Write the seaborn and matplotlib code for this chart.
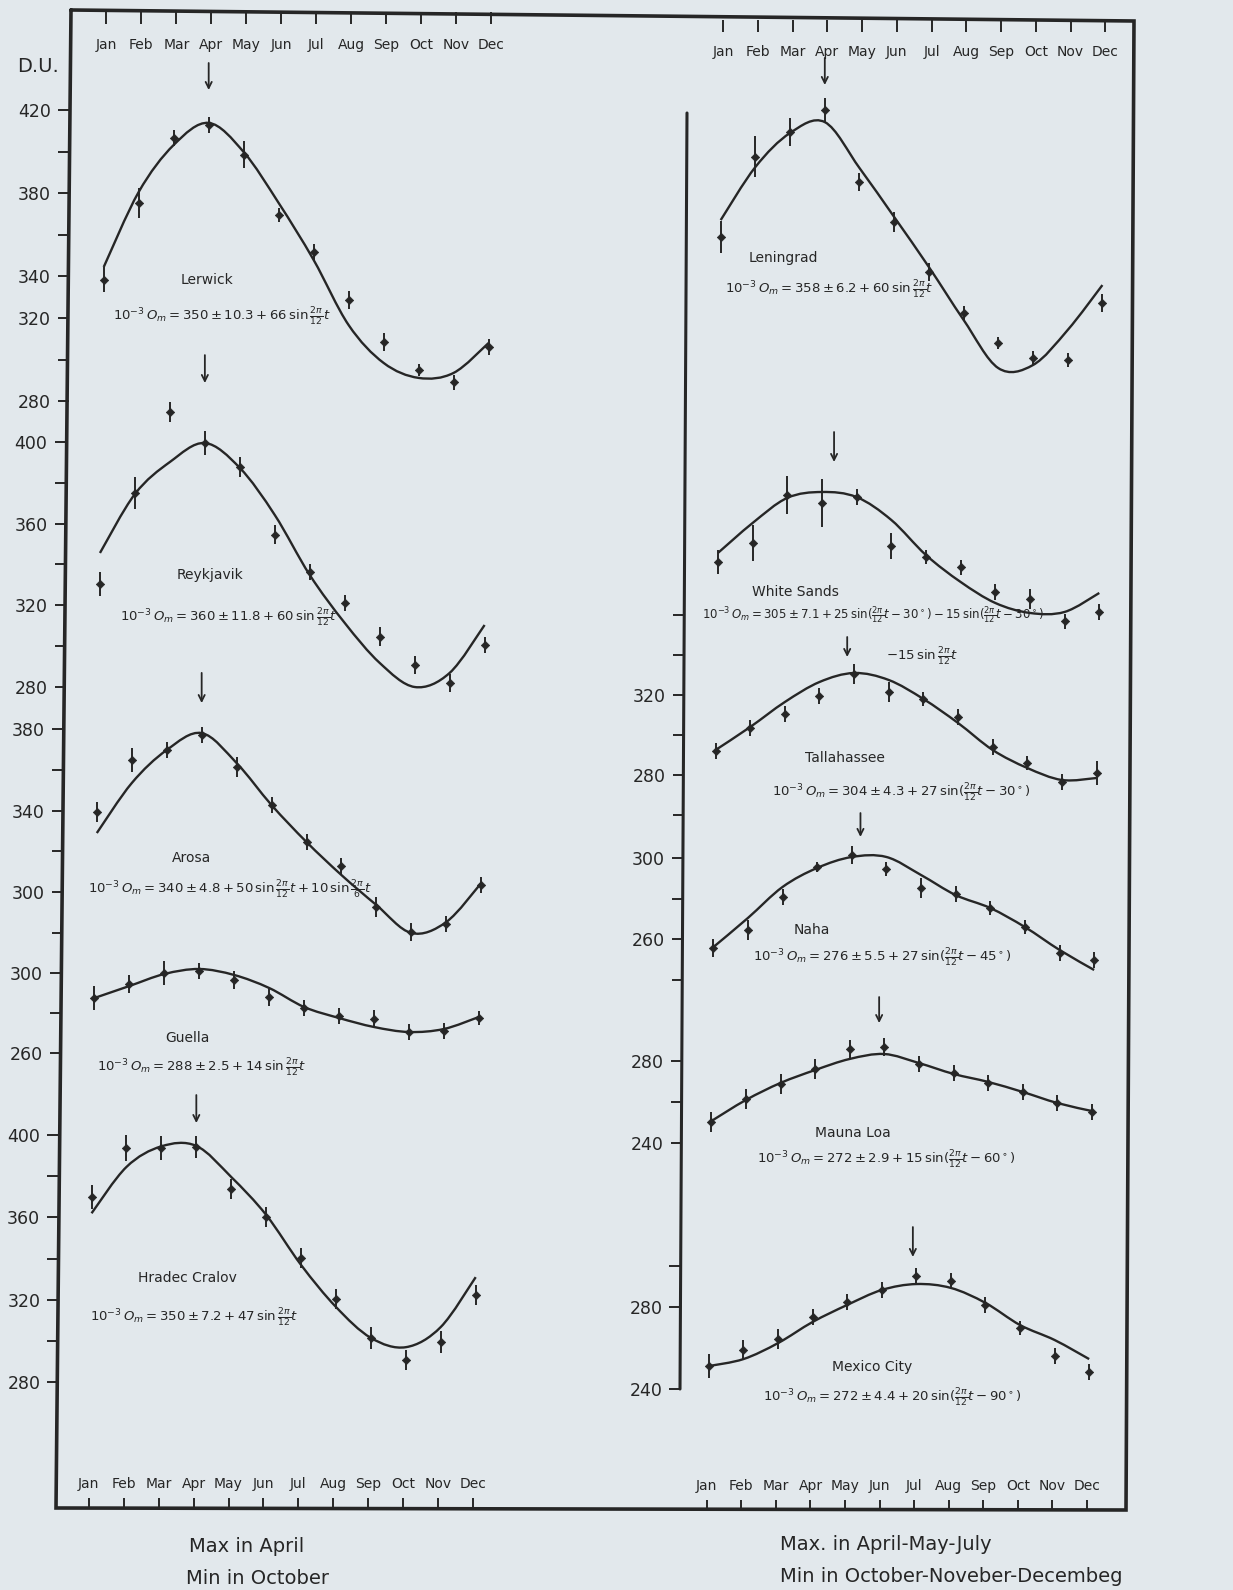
import numpy as np
import matplotlib
matplotlib.use('Agg')
import matplotlib.pyplot as plt
from matplotlib.path import Path
from matplotlib.patches import PathPatch
import seaborn as sns

months = ['Jan', 'Feb', 'Mar', 'Apr', 'May', 'Jun', 'Jul', 'Aug', 'Sep', 'Oct', 'Nov', 'Dec']

######## left column (D.U.) #########
lerwick_obs = [338.3, 375.3, 406.5, 412.8, 398.4, 369.5, 351.7, 328.7, 308.5, 295.0, 289.0, 306.0]
lerwick_err = [6, 7, 4, 4, 6.5, 3.5, 4, 4.5, 4.5, 3, 3.5, 4]
lerwick_fit = [344.5, 380.6, 403.2, 413.8, 399.8, 375.3, 347.9, 316.6, 298.4, 291.2, 293.6, 308.0]
lerwick_ticks = [420, 400, 380, 360, 340, 320, 300, 280]
lerwick_labels = [420, 380, 340, 320, 280]

reykjavik_obs = [330.4, 375.0, 414.7, 399.5, 387.7, 354.6, 336.4, 321.2, 304.6, 290.7, 281.9, 300.5]
reykjavik_err = [6, 8, 5, 6, 5, 4.5, 4, 4, 4.5, 4.5, 4.5, 4]
reykjavik_fit = [345.6, 374.5, 390.2, 399.5, 387.3, 364.2, 334.8, 311.3, 291.7, 279.9, 286.8, 310.3]
reykjavik_ticks = [400, 380, 360, 340, 320, 300, 280]
reykjavik_labels = [400, 360, 320, 280]

arosa_obs = [339.3, 364.8, 369.7, 377.1, 361.4, 342.7, 324.6, 312.8, 292.7, 280.5, 284.4, 303.5]
arosa_err = [5, 6, 4, 4, 5, 4, 4, 4, 5, 4.5, 4, 4]
arosa_fit = [329.0, 353.5, 369.7, 378.0, 363.3, 342.7, 324.6, 308.4, 293.7, 280.0, 285.4, 304.5]
arosa_ticks = [380, 360, 340, 320, 300, 280]
arosa_labels = [380, 340, 300]

guella_obs = [287.5, 294.5, 300.0, 301.0, 296.5, 288.0, 282.5, 278.5, 277.0, 270.5, 271.0, 277.5]
guella_err = [6, 4.5, 6, 4, 4.5, 4.5, 4, 4, 4.5, 4, 4, 3.5]
guella_fit = [287.5, 293.5, 299.5, 302.0, 299.0, 292.5, 283.0, 277.5, 273.0, 270.5, 272.0, 278.0]
guella_ticks = [300, 280, 260]
guella_labels = [300, 260]

hradec_obs = [369.9, 393.7, 393.7, 394.2, 373.8, 360.2, 340.3, 320.4, 301.5, 290.8, 299.5, 322.3]
hradec_err = [6, 6.5, 6, 5.5, 5, 5, 5, 5, 5.5, 5, 5.5, 5]
hradec_fit = [362.0, 384.5, 394.5, 394.7, 379.6, 361.2, 336.9, 316.5, 301.5, 297.0, 306.8, 331.0]
hradec_ticks = [400, 380, 360, 340, 320, 300, 280]
hradec_labels = [400, 360, 320, 280]

######## right column (D.U.) #########
leningrad_obs = [360.0, 399.0, 411.2, 421.9, 386.8, 367.3, 342.9, 322.9, 308.3, 301.0, 300.0, 327.8]
leningrad_err = [8, 10, 7, 6, 4.5, 5, 4.5, 3.5, 3, 3.5, 3.5, 4.5]
leningrad_fit = [368.2, 394.1, 410.7, 416.0, 393.6, 369.7, 345.3, 319.5, 296.0, 297.5, 314.6, 336.5]

whitesands_obs = [306.0, 315.3, 338.8, 334.9, 337.8, 313.8, 308.4, 303.5, 291.3, 287.7, 277.0, 281.5]
whitesands_err = [6, 9, 9.4, 11.8, 4, 6.5, 3.3, 3.7, 4, 5, 3.7, 4]
whitesands_fit = [310.4, 325.1, 337.4, 340.3, 337.8, 326.6, 309.4, 296.2, 285.9, 281.0, 281.5, 290.8]

tallahassee_obs = [292.0, 303.5, 310.5, 319.5, 330.5, 321.5, 318.0, 309.0, 294.0, 286.0, 276.5, 281.0]
tallahassee_err = [4, 4, 4, 4, 5, 5, 3.5, 4, 4, 3.5, 4, 6]
tallahassee_fit = [292.5, 304.0, 316.5, 326.5, 331.0, 327.5, 318.0, 306.0, 292.5, 283.5, 277.5, 278.5]
tallahassee_ticks = [360, 340, 320, 300, 280, 260]
tallahassee_labels = [320, 280]

naha_obs = [255.6, 264.4, 280.7, 295.6, 301.5, 294.6, 285.2, 282.2, 275.3, 265.9, 253.1, 249.6]
naha_err = [4.5, 5, 4, 2.5, 4.5, 3.5, 5, 4, 3.5, 3.5, 4, 4]
naha_fit = [256.0, 270.4, 285.7, 295.1, 300.5, 300.5, 291.6, 281.7, 275.3, 265.9, 254.6, 244.7]
naha_ticks = [300, 280, 260, 240]
naha_labels = [300, 260]

maunaloa_obs = [250.2, 261.5, 268.8, 276.1, 285.9, 286.8, 278.5, 274.1, 269.3, 264.9, 259.5, 255.1]
maunaloa_err = [5, 5, 5, 5, 4.5, 4.5, 4, 4, 4, 4, 4, 4]
maunaloa_fit = [250.7, 261.0, 269.3, 275.6, 281.0, 283.4, 279.0, 273.7, 269.8, 264.9, 259.5, 255.6]
maunaloa_ticks = [280, 260, 240]
maunaloa_labels = [280, 240]

mexico_obs = [251.2, 259.0, 264.4, 275.1, 282.4, 288.3, 295.1, 292.7, 281.0, 269.8, 256.1, 248.3]
mexico_err = [5.7, 5, 5, 4, 4, 4, 4, 4, 4, 3.5, 4, 4]
mexico_fit = [251.2, 254.6, 262.4, 272.7, 281.0, 288.3, 291.2, 289.3, 282.0, 271.2, 263.9, 254.6]
mexico_ticks = [300, 280, 240]
mexico_labels = [280, 240]

# max arrows: (month, tail D.U., head D.U.)
lerwick_arrow = (3, 442.6, 429.6)
reykjavik_arrow = (3, 442.6, 428.9)
arosa_arrow = (3, 407.5, 392.7)
hradec_arrow = (3, 419.4, 405.8)
leningrad_arrow = (3, 447.3, 434.1)
whitesands_arrow = (3.35, 369.7, 355.0)
tallahassee_arrow = (3.8, 349.0, 339.0)
naha_arrow = (4.25, 322.2, 310.4)
maunaloa_arrow = (4.85, 311.2, 298.5)
mexico_arrow = (5.9, 319.0, 304.4)

sns.set_style('white')
plt.rcParams['font.family'] = ['DejaVu Sans']
plt.rcParams['mathtext.fontset'] = 'dejavusans'

INK = '#262626'
PAPER = '#e2e8ec'
W, H = 1233, 1590

fig = plt.figure(figsize=(W / 100, H / 100), dpi=100, facecolor=PAPER)

# scanned page is slightly rotated: axis lines and month positions drift with height
def line_x(col, y):
    if col == 0:
        return 71 - (y - 10) * 15 / 1498
    return 687 - (y - 113) * 7 / 1276

def month_px(col, y):
    t = (y - 40) / 1457
    if col == 0:
        jan, dec = 106 - 17 * t, 491 - 18 * t
    else:
        jan, dec = 723 - 16 * t, 1105 - 18 * t
    return jan, (dec - jan) / 11

def smooth_path(xs, ys):
    pts = np.column_stack([xs, ys]).astype(float)
    n = len(pts)
    verts, codes = [pts[0]], [Path.MOVETO]
    for i in range(n - 1):
        p0, p1 = pts[max(i - 1, 0)], pts[i]
        p2, p3 = pts[i + 1], pts[min(i + 2, n - 1)]
        verts += [p1 + (p2 - p0) / 6, p2 - (p3 - p1) / 6, p2]
        codes += [Path.CURVE4] * 3
    return Path(verts, codes)

# page frame and the right-hand scale line
bg = fig.add_axes([0, 0, 1, 1])
bg.set_xlim(0, W)
bg.set_ylim(H, 0)
bg.axis('off')
bg.patch.set_alpha(0)
bg.plot([71, 1134, 1126, 56, 71], [10, 21, 1510, 1508, 10], color=INK, lw=2.6, solid_joinstyle='miter')
bg.plot([line_x(1, 113), line_x(1, 1389)], [113, 1389], color=INK, lw=2.2)

def station_axes(col, top, bot, y_ref, v_ref, scale, ticks=None, labels=()):
    yc = (top + bot) / 2
    x0 = line_x(col, yc)
    x1 = 600 if col == 0 else 1120
    ax = fig.add_axes([x0 / W, 1 - bot / H, (x1 - x0) / W, (bot - top) / H])
    jan, step = month_px(col, yc)
    ax.set_xlim((x0 - jan) / step, (x1 - jan) / step)
    ax.set_ylim(v_ref - (bot - y_ref) / scale, v_ref + (y_ref - top) / scale)
    ax.patch.set_alpha(0)
    for s in ax.spines.values():
        s.set_visible(False)
    ax.set_xticks([])
    ax.set_xlabel('')
    if ticks:
        ax.set_yticks(ticks)
        ax.set_yticklabels([str(t) if t in labels else '' for t in ticks])
        ax.tick_params(axis='y', left=True, direction='out', length=8, width=1.4,
                       colors=INK, labelsize=12.5, pad=5)
    else:
        ax.set_yticks([])
    return ax

def draw_station(ax, obs, err, fit, arrow=None):
    x = np.arange(12)
    obs = np.array(obs)
    ax.add_patch(PathPatch(smooth_path(x, fit), fill=False, lw=1.7, ec=INK, clip_on=False))
    ax.vlines(x, obs - np.array(err), obs + np.array(err), color=INK, lw=1.4, clip_on=False)
    sns.scatterplot(x=x, y=obs, ax=ax, marker='D', s=18, color=INK, edgecolor=INK,
                    linewidth=0.5, clip_on=False, legend=False, zorder=3)
    ax.set_ylabel('')
    if arrow is not None:
        m, tail, head = arrow
        ax.annotate('', xy=(m, head), xytext=(m, tail), annotation_clip=False,
                    arrowprops=dict(arrowstyle='->', color=INK, lw=1.3, mutation_scale=11,
                                    shrinkA=0, shrinkB=0))

ax = station_axes(0, 60, 410, 110, 420, 2.08, lerwick_ticks, lerwick_labels)
draw_station(ax, lerwick_obs, lerwick_err, lerwick_fit, lerwick_arrow)
ax = station_axes(0, 415, 700, 442, 400, 2.04, reykjavik_ticks, reykjavik_labels)
draw_station(ax, reykjavik_obs, reykjavik_err, reykjavik_fit, reykjavik_arrow)
ax = station_axes(0, 705, 950, 729, 380, 2.04, arosa_ticks, arosa_labels)
draw_station(ax, arosa_obs, arosa_err, arosa_fit, arosa_arrow)
ax = station_axes(0, 955, 1100, 973, 300, 2.0, guella_ticks, guella_labels)
draw_station(ax, guella_obs, guella_err, guella_fit)
ax = station_axes(0, 1105, 1450, 1135, 400, 2.06, hradec_ticks, hradec_labels)
draw_station(ax, hradec_obs, hradec_err, hradec_fit, hradec_arrow)

ax = station_axes(1, 100, 400, 118, 418, 2.05)
draw_station(ax, leningrad_obs, leningrad_err, leningrad_fit, leningrad_arrow)
ax = station_axes(1, 405, 600, 615, 280, 2.04)
draw_station(ax, whitesands_obs, whitesands_err, whitesands_fit, whitesands_arrow)
ax = station_axes(1, 605, 830, 695, 320, 2.0, tallahassee_ticks, tallahassee_labels)
draw_station(ax, tallahassee_obs, tallahassee_err, tallahassee_fit, tallahassee_arrow)
ax = station_axes(1, 840, 1000, 858, 300, 2.025, naha_ticks, naha_labels)
draw_station(ax, naha_obs, naha_err, naha_fit, naha_arrow)
ax = station_axes(1, 1040, 1160, 1061, 280, 2.05, maunaloa_ticks, maunaloa_labels)
draw_station(ax, maunaloa_obs, maunaloa_err, maunaloa_fit, maunaloa_arrow)
ax = station_axes(1, 1245, 1400, 1307, 280, 2.05, mexico_ticks, mexico_labels)
draw_station(ax, mexico_obs, mexico_err, mexico_fit, mexico_arrow)

# month scales hanging from the top frame and standing on the bottom frame
def month_strip(col, top, bot, at_top):
    root = top if at_top else bot
    x0 = line_x(col, root) if col == 0 else 680
    x1 = 600 if col == 0 else 1120
    ax = fig.add_axes([x0 / W, 1 - bot / H, (x1 - x0) / W, (bot - top) / H])
    jan, step = month_px(col, root)
    ax.set_xlim((x0 - jan) / step, (x1 - jan) / step)
    ax.patch.set_alpha(0)
    for s in ax.spines.values():
        s.set_visible(False)
    ax.set_yticks([])
    ax.set_xticks(range(12))
    ax.set_xticklabels(months)
    ax.tick_params(axis='x', top=at_top, bottom=not at_top, labeltop=not at_top,
                   labelbottom=at_top, direction='in', length=8.5 if at_top else 7.5,
                   width=1.4, colors=INK, labelsize=10, pad=2)

month_strip(0, 12, 35, True)
month_strip(1, 20, 42, True)
month_strip(0, 1494, 1508, False)
month_strip(1, 1496, 1510, False)

def put(x, y, s, size=10, ha='center'):
    fig.text(x / W, 1 - y / H, s, ha=ha, va='center', fontsize=size, color=INK)

put(38, 67, 'D.U.', 14)

put(207, 280, 'Lerwick')
put(113, 317, r'$10^{-3}\,O_m = 350 \pm 10.3 + 66\,\sin\frac{2\pi}{12}t$', 9.5, 'left')
put(210, 575, 'Reykjavik')
put(120, 618, r'$10^{-3}\,O_m = 360 \pm 11.8 + 60\,\sin\frac{2\pi}{12}t$', 9.5, 'left')
put(192, 858, 'Arosa')
put(88, 890, r'$10^{-3}\,O_m = 340 \pm 4.8 + 50\,\sin\frac{2\pi}{12}t + 10\,\sin\frac{2\pi}{6}t$', 9.5, 'left')
put(187, 1038, 'Guella')
put(97, 1068, r'$10^{-3}\,O_m = 288 \pm 2.5 + 14\,\sin\frac{2\pi}{12}t$', 9.5, 'left')
put(187, 1278, 'Hradec Cralov')
put(90, 1318, r'$10^{-3}\,O_m = 350 \pm 7.2 + 47\,\sin\frac{2\pi}{12}t$', 9.5, 'left')

put(783, 258, 'Leningrad')
put(725, 290, r'$10^{-3}\,O_m = 358 \pm 6.2 + 60\,\sin\frac{2\pi}{12}t$', 9.5, 'left')
put(795, 592, 'White Sands')
put(702, 615, r'$10^{-3}\,O_m = 305 \pm 7.1 + 25\,\sin(\frac{2\pi}{12}t - 30^\circ) - 15\,\sin(\frac{2\pi}{12}t - 30^\circ)$', 8.5, 'left')
put(922, 657, r'$-15\,\sin\frac{2\pi}{12}t$', 9.5)
put(845, 758, 'Tallahassee')
put(772, 793, r'$10^{-3}\,O_m = 304 \pm 4.3 + 27\,\sin(\frac{2\pi}{12}t - 30^\circ)$', 9.5, 'left')
put(812, 930, 'Naha')
put(753, 958, r'$10^{-3}\,O_m = 276 \pm 5.5 + 27\,\sin(\frac{2\pi}{12}t - 45^\circ)$', 9.5, 'left')
put(853, 1133, 'Mauna Loa')
put(757, 1160, r'$10^{-3}\,O_m = 272 \pm 2.9 + 15\,\sin(\frac{2\pi}{12}t - 60^\circ)$', 9.5, 'left')
put(872, 1367, 'Mexico City')
put(763, 1398, r'$10^{-3}\,O_m = 272 \pm 4.4 + 20\,\sin(\frac{2\pi}{12}t - 90^\circ)$', 9.5, 'left')

put(247, 1547, 'Max in April', 14)
put(257, 1578, 'Min in October', 14)
put(780, 1545, 'Max. in April-May-July', 14, 'left')
put(780, 1576, 'Min in October-Noveber-Decembeg', 14, 'left')

fig.savefig('out.png', dpi=100, facecolor=PAPER)
